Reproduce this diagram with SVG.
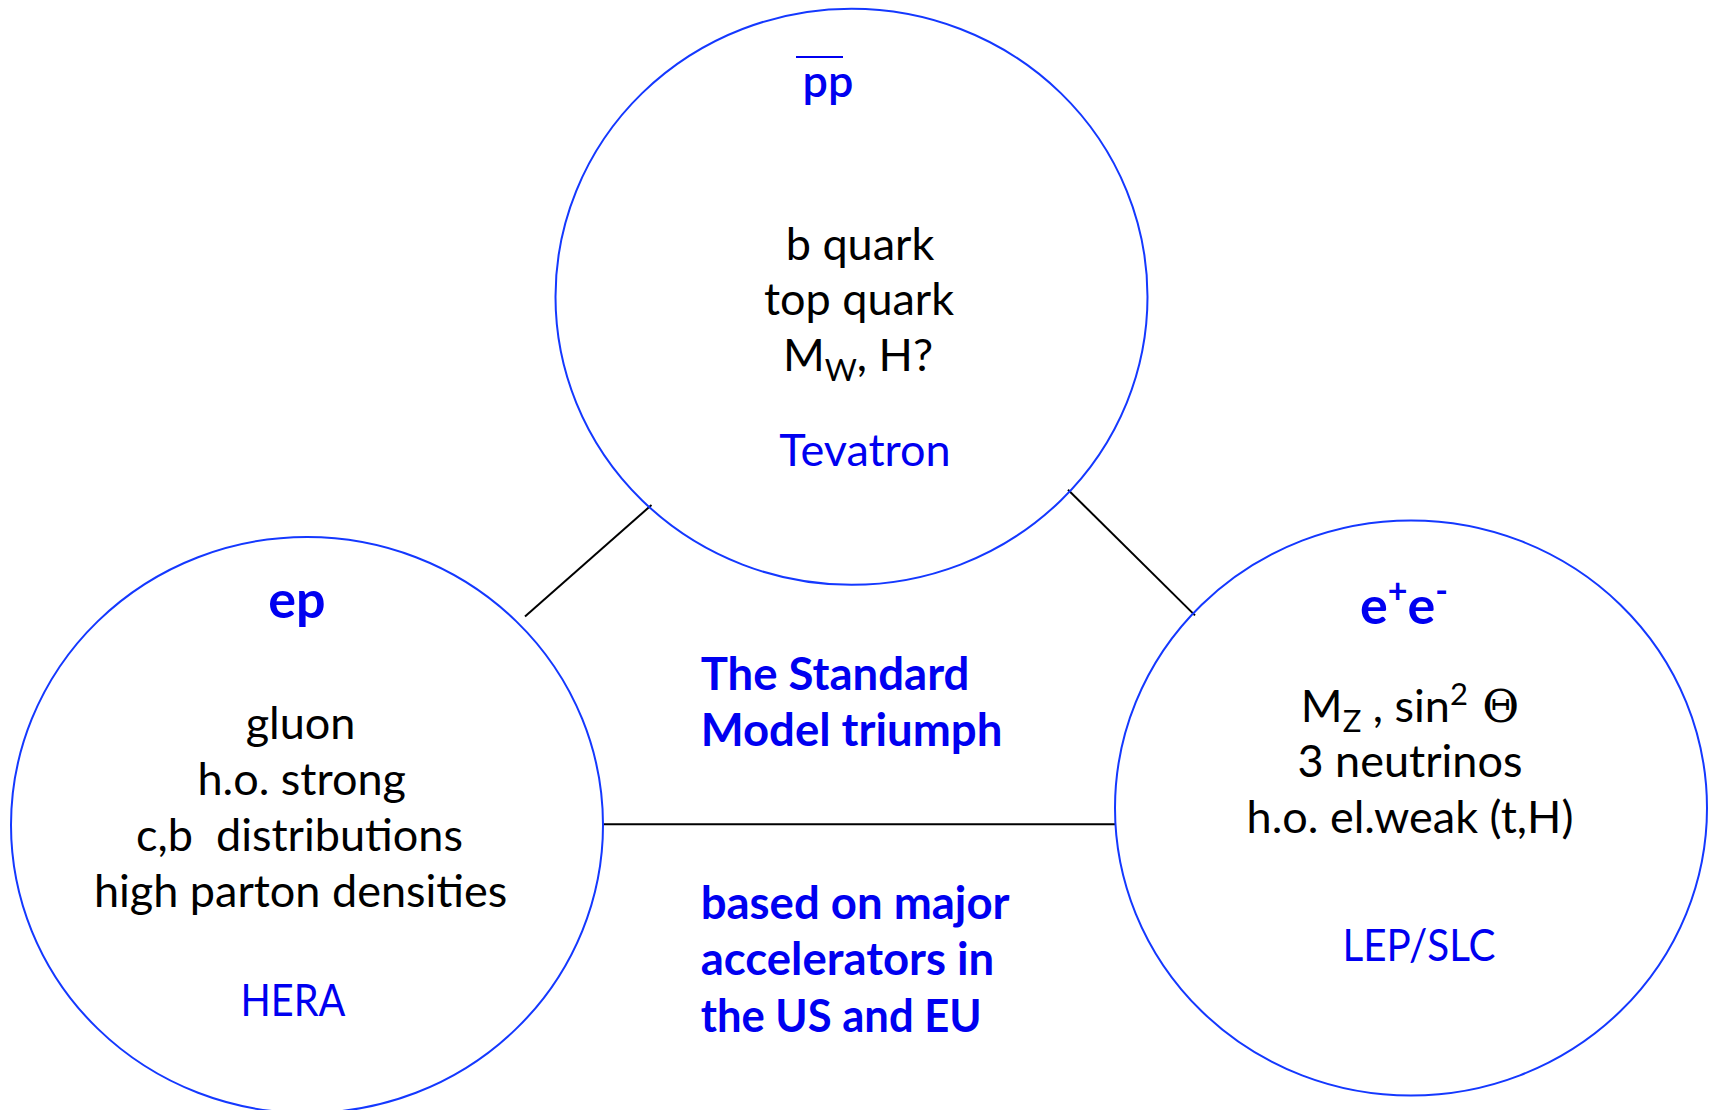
<svg xmlns="http://www.w3.org/2000/svg" width="1714" height="1110" viewBox="0 0 1714 1110">
<style>
.ring{fill:none;stroke:#1438ff;stroke-width:2}
.conn{stroke:#000;stroke-width:2;fill:none}
.t{font-family:Lato,"Open Sans","Liberation Sans",sans-serif;font-size:45px;text-anchor:middle}
.k{fill:#000}
.b{fill:#0000f0}
.hd{font-weight:bold;font-size:52px}
.mid{font-family:Lato,"Open Sans","Liberation Sans",sans-serif;font-size:45.5px;font-weight:bold;fill:#0000f0}
</style>
<rect width="1714" height="1110" fill="#fff"/>
<g id="connectors">
<line class="conn" x1="525" y1="616.5" x2="651.5" y2="505"/>
<line class="conn" x1="1068" y1="489.7" x2="1195" y2="615.4"/>
<line class="conn" x1="603.4" y1="824.2" x2="1115" y2="824.2"/>
</g>
<g id="tevatron">
<ellipse class="ring" cx="851.5" cy="296.8" rx="296" ry="288"/>
<text class="t b" x="828" y="97" font-size="54" font-weight="600">pp</text>
<line x1="796" y1="57" x2="843" y2="57" stroke="#0000f0" stroke-width="2.2"/>
<text class="t k" x="860" y="260">b quark</text>
<text class="t k" x="859" y="315">top quark</text>
<text class="t k" x="858" y="371">M<tspan font-size="31" dy="10">W</tspan><tspan dy="-10">, H?</tspan></text>
<text class="t b" x="865" y="466">Tevatron</text>
</g>
<g id="hera">
<ellipse class="ring" cx="307" cy="825" rx="296" ry="288"/>
<text class="t b hd" x="297" y="618">ep</text>
<text class="t k" x="300.6" y="739">gluon</text>
<text class="t k" x="301.7" y="795">h.o. strong</text>
<text class="t k" x="299.5" y="851" xml:space="preserve">c,b  distributions</text>
<text class="t k" x="300.6" y="907">high parton densities</text>
<text class="t b" x="293" y="1016" font-size="43" textLength="105" lengthAdjust="spacingAndGlyphs">HERA</text>
</g>
<g id="lep">
<ellipse class="ring" cx="1411" cy="808" rx="296" ry="287.5"/>
<text class="t b hd" x="1404" y="624">e<tspan font-size="34" dy="-21">+</tspan><tspan dy="21">e</tspan><tspan font-size="34" dy="-21">-</tspan></text>
<text class="t k" x="1410" y="722">M<tspan font-size="31" dy="10">Z</tspan><tspan dy="-10"> , sin</tspan><tspan font-size="31" dy="-17">2</tspan><tspan dy="17" font-family="'DejaVu Serif','Liberation Serif',serif"> Θ</tspan></text>
<text class="t k" x="1410" y="777">3 neutrinos</text>
<text class="t k" x="1410" y="833">h.o. el.weak (t,H)</text>
<text class="t b" x="1419" y="961" font-size="43" textLength="153" lengthAdjust="spacingAndGlyphs">LEP/SLC</text>
</g>
<g id="center-text">
<text class="mid" x="700.7" y="690">The Standard</text>
<text class="mid" x="700.7" y="746">Model triumph</text>
<text class="mid" x="700.7" y="919">based on major</text>
<text class="mid" x="700.7" y="975">accelerators in</text>
<text class="mid" x="700.7" y="1032" textLength="281" lengthAdjust="spacingAndGlyphs">the US and EU</text>
</g>
</svg>
